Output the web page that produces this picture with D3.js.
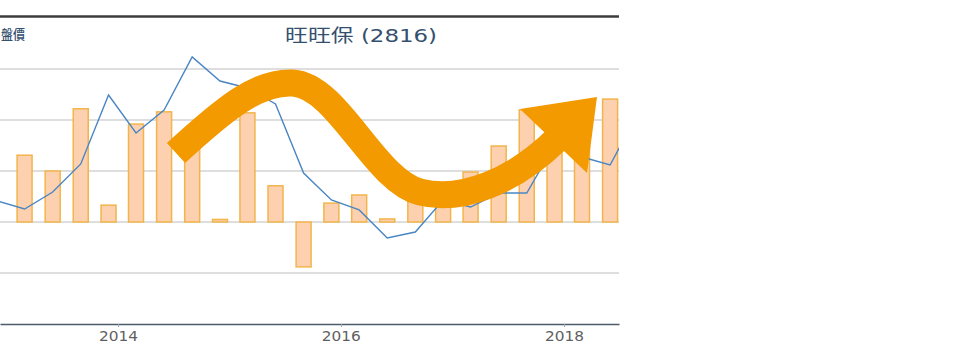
<!DOCTYPE html>
<html>
<head>
<meta charset="utf-8">
<script src="https://cdn.jsdelivr.net/npm/d3@7"></script>
<style>
  body { margin: 0; background: #fff; }
  svg { display: block; }
</style>
</head>
<body>
<svg id="chart" width="960" height="363"></svg>
<script>
"use strict";

// quarterly bars (growth %, Mar 2013 .. Jun 2018)
const barDates = [
    "2013-03", "2013-06", "2013-09", "2013-12", "2014-03", "2014-06", "2014-09", "2014-12",
    "2015-03", "2015-06", "2015-09", "2015-12", "2016-03", "2016-06", "2016-09", "2016-12",
    "2017-03", "2017-06", "2017-09", "2017-12", "2018-03", "2018-06"
];
const barValues = [
    13.1, 10.0, 22.2, 3.3, 19.2, 21.6, 17.0, 0.5,
    21.4, 7.1, -8.8, 3.7, 5.3, 0.6, 6.3, 7.3,
    9.8, 14.9, 22.0, 20.4, 19.0, 24.1
];

// closing price, quarterly
const priceDates = [
    "2012-12", "2013-03", "2013-06", "2013-09", "2013-12", "2014-03", "2014-06", "2014-09",
    "2014-12", "2015-03", "2015-06", "2015-09", "2015-12", "2016-03", "2016-06", "2016-09",
    "2016-12", "2017-03", "2017-06", "2017-09", "2017-12", "2018-03", "2018-06", "2018-09"
];
const priceValues = [
    22.06, 21.27, 22.94, 25.69, 32.45, 28.73, 30.98, 36.18,
    33.82, 33.14, 31.57, 24.80, 22.16, 21.18, 18.43, 19.02,
    22.16, 21.47, 22.84, 22.84, 27.55, 26.37, 25.59, 30.69
];

const yearTicks = ["2014", "2016", "2018"];
const gridValues = [-10, 0, 10, 20, 30];

const title = "旺旺保 (2816)";
const leftLabel = "盤價";

const parseMonth = d3.timeParse("%Y-%m");
const parseYear = d3.timeParse("%Y");

const svg = d3.select("#chart");
const plotLeft = 0, plotRight = 619, plotTop = 17, plotBottom = 324;

// year 2014 sits at 118px, 2018 at 564px
const xRef = d3.scaleTime()
    .domain([parseYear("2014"), parseYear("2018")])
    .range([118, 564]);
const x = d3.scaleTime()
    .domain([xRef.invert(plotLeft), xRef.invert(plotRight)])
    .range([plotLeft, plotRight]);

const yBar = d3.scaleLinear().domain([-20, 30]).range([plotBottom, 69]);
const yPrice = d3.scaleLinear().domain([10, 35]).range([plotBottom, 69]);

svg.append("defs").append("clipPath").attr("id", "plot")
    .append("rect")
    .attr("x", plotLeft).attr("y", plotTop)
    .attr("width", plotRight - plotLeft).attr("height", plotBottom - plotTop);

// top rule
svg.append("line")
    .attr("x1", plotLeft).attr("x2", plotRight)
    .attr("y1", 16.5).attr("y2", 16.5)
    .attr("stroke", "#3c3c3c")
    .attr("stroke-width", 2.5);

// title + left label
svg.append("text")
    .attr("x", 285).attr("y", 42)
    .attr("textLength", 152)
    .attr("lengthAdjust", "spacingAndGlyphs")
    .attr("font-family", "'DejaVu Sans', 'Noto Sans CJK TC', sans-serif")
    .attr("font-size", "18px")
    .attr("fill", "#34506e")
    .text(title);

svg.append("text")
    .attr("x", 1).attr("y", 39)
    .attr("textLength", 24)
    .attr("lengthAdjust", "spacingAndGlyphs")
    .attr("font-family", "'Noto Sans CJK TC', sans-serif")
    .attr("font-size", "13px")
    .attr("font-weight", 500)
    .attr("fill", "#34506e")
    .text(leftLabel);

// gridlines
svg.append("g").selectAll("line")
    .data(gridValues)
    .enter()
    .append("line")
    .attr("x1", plotLeft).attr("x2", plotRight)
    .attr("y1", d => yBar(d)).attr("y2", d => yBar(d))
    .attr("stroke", "#d3d3d3")
    .attr("stroke-width", 1.5);

const plot = svg.append("g").attr("clip-path", "url(#plot)");

// bars
const barW = 15;
plot.selectAll("rect.bar")
    .data(barValues)
    .enter()
    .append("rect")
    .attr("class", "bar")
    .attr("x", (d, i) => x(parseMonth(barDates[i])) - barW / 2)
    .attr("y", d => yBar(Math.max(0, d)))
    .attr("width", barW)
    .attr("height", d => Math.abs(yBar(d) - yBar(0)))
    .attr("fill", "#fdd0b0")
    .attr("stroke", "#f2b54c")
    .attr("stroke-width", 1.5);

// price line
const line = d3.line()
    .x((d, i) => x(parseMonth(priceDates[i])))
    .y(d => yPrice(d));

plot.append("path")
    .datum(priceValues)
    .attr("d", line)
    .attr("fill", "none")
    .attr("stroke", "#4a86c4")
    .attr("stroke-width", 1.4);

// x axis
const xAxis = d3.axisBottom(x)
    .tickValues(yearTicks.map(parseYear))
    .tickFormat(d3.timeFormat("%Y"))
    .tickSize(3)
    .tickSizeOuter(0);

const axisG = svg.append("g")
    .attr("transform", `translate(0, ${plotBottom})`)
    .call(xAxis);

axisG.select(".domain")
    .attr("stroke", "#4d5b6a")
    .attr("stroke-width", 1.6);
axisG.selectAll(".tick line")
    .attr("stroke", "#8aa9c9");
axisG.selectAll(".tick text")
    .attr("y", 7)
    .attr("textLength", 39)
    .attr("lengthAdjust", "spacingAndGlyphs")
    .attr("font-family", "'DejaVu Sans', sans-serif")
    .attr("font-size", "14px")
    .attr("fill", "#5f5f5f");

// orange trend arrow drawn over the chart
svg.append("path")
    .attr("d", "M176,153 C225,108 258,81 293,83 C338,86 374,180 420,192 C462,203 515,180 556,140")
    .attr("fill", "none")
    .attr("stroke", "#f29a00")
    .attr("stroke-width", 27);

svg.append("path")
    .attr("d", "M520,109 L597,97 L587,173 Z")
    .attr("fill", "#f29a00");
</script>
</body>
</html>
